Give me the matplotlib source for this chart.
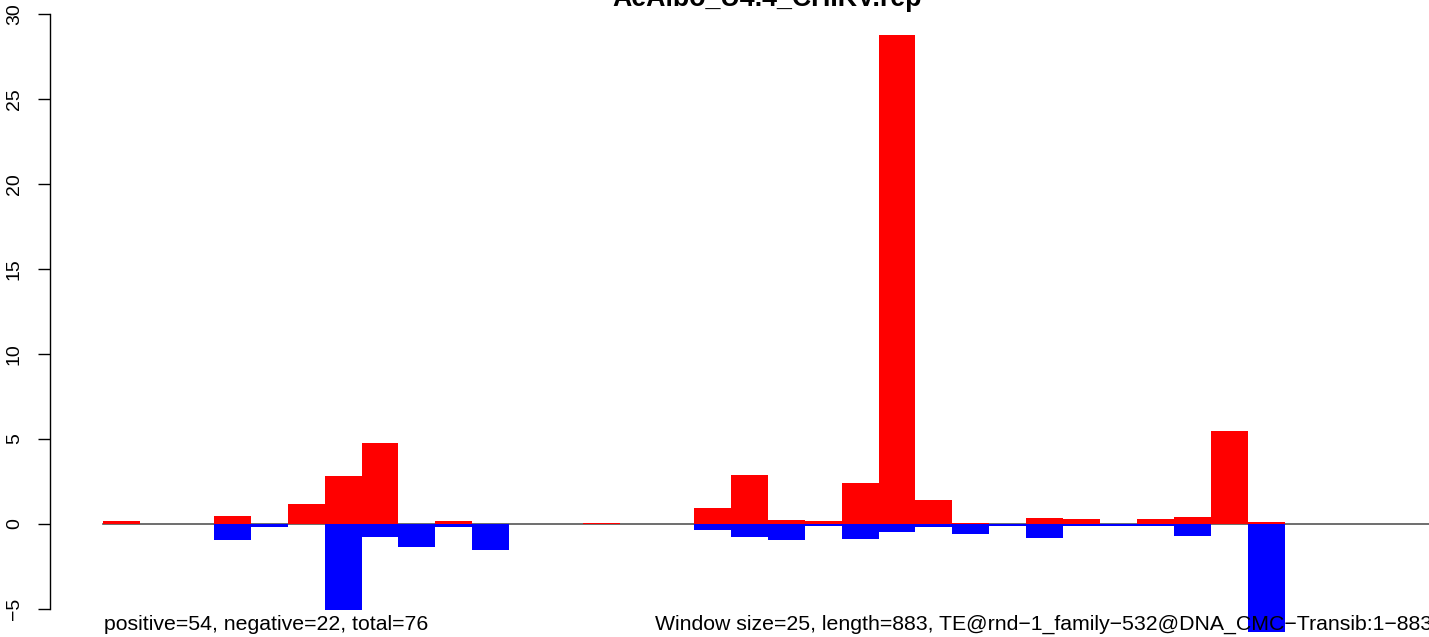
import matplotlib.pyplot as plt

plt.rcParams['font.family'] = ['Liberation Sans', 'DejaVu Sans']

# per-window values (window size 25, 36 windows)
pos = [0.18, 0, 0, 0.47, 0, 1.18, 2.82, 4.76, 0, 0.18, 0, 0, 0, 0.07, 0, 0,
       0.94, 2.88, 0.24, 0.16, 2.41, 28.76, 1.41, 0.06, 0, 0.35, 0.29, 0, 0.29,
       0.43, 5.47, 0.12, 0, 0, 0, 0]
neg = [0, 0, 0, -0.94, -0.18, 0, -5.05, -0.76, -1.35, -0.2, -1.53, 0, 0, 0, 0, 0,
       -0.35, -0.75, -0.92, -0.12, -0.88, -0.47, -0.2, -0.59, -0.12, -0.82, -0.12,
       -0.12, -0.12, -0.7, 0, -7.0, 0, 0, 0, 0]
yticks = [-5, 0, 5, 10, 15, 20, 25, 30]

title = "AeAlbo_U4.4_CHIKV.rep"
left_note = "positive=54, negative=22, total=76"
right_note = "Window size=25, length=883, TE@rnd\u22121_family\u2212532@DNA_CMC\u2212Transib:1\u2212883"

W, H = 1429, 637
fig = plt.figure(figsize=(W / 100, H / 100), dpi=100)

# axes placed so the y axis sits at x=50px, plot region bottom at 632px
ax = fig.add_axes([50 / W, 5 / H, (W - 50) / W, 632 / H])
bw = 36.93
x0 = 103
ax.set_xlim((50 - x0) / bw, (W - x0) / bw)
ax.set_ylim((524 - 632) / 17, 524 / 17)

x = list(range(len(pos)))
ax.plot([0, len(pos)], [0, 0], color='#555555', lw=1.2, zorder=1, clip_on=False)
ax.bar(x, pos, width=1, align='edge', color='red', zorder=2)
ax.bar(x, neg, width=1, align='edge', color='blue', zorder=2)

for s in ['top', 'right', 'bottom']:
    ax.spines[s].set_visible(False)
ax.spines['left'].set_bounds(-5, 30)
ax.spines['left'].set_linewidth(1.0)
ax.set_xticks([])
ax.set_yticks(yticks)
ax.set_yticklabels([str(t).replace('-', '\u2212') for t in yticks], rotation=90, va='center',
                   fontsize=14)
ax.tick_params(axis='y', length=8.5, width=1.0, pad=11)

fig.text(767 / W, 1 - 6 / H, title, ha='center', va='baseline', fontsize=19.3, fontweight='bold')
fig.text(104 / W, 1 - 630 / H, left_note, ha='left', va='baseline', fontsize=15.3)
fig.text(655 / W, 1 - 630 / H, right_note, ha='left', va='baseline', fontsize=15.3)

fig.savefig('out.png', dpi=100)
